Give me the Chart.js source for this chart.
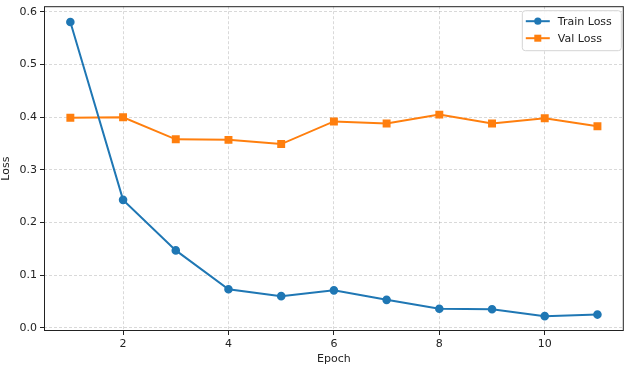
<!DOCTYPE html>
<html>
<head>
<meta charset="utf-8">
<script src="https://cdn.jsdelivr.net/npm/chart.js@4"></script>
<style>
  html, body { margin: 0; padding: 0; background: #fff; }
  #wrap { width: 630px; height: 369px; }
</style>
</head>
<body>
<div id="wrap"><canvas id="lossChart" width="630" height="369"></canvas></div>
<script>
// Données
const epochs = [1, 2, 3, 4, 5, 6, 7, 8, 9, 10, 11];
const trainLoss = [0.581, 0.243, 0.147, 0.073, 0.060, 0.071, 0.053, 0.036, 0.035, 0.022, 0.025];
const valLoss = [0.399, 0.400, 0.358, 0.357, 0.349, 0.392, 0.388, 0.405, 0.388, 0.398, 0.383];
const xTicks = [2, 4, 6, 8, 10];
const yTicks = [0.0, 0.1, 0.2, 0.3, 0.4, 0.5, 0.6];

const blue = '#1f77b4';
const orange = '#ff7f0e';
const font = { family: 'DejaVu Sans', size: 11 };

// Cadre autour de la zone du graphique + légende façon matplotlib
const framePlugin = {
    id: 'frame',
    afterDatasetsDraw(chart) {
        const ctx = chart.ctx;
        const a = chart.chartArea;
        ctx.save();
        ctx.strokeStyle = '#222';
        ctx.lineWidth = 1;
        ctx.strokeRect(a.left + 0.5, a.top + 0.5, a.right - a.left - 1, a.bottom - a.top - 1);

        // légende
        const boxW = 99, boxH = 40;
        const bx = a.right - boxW - 3, by = a.top + 4;
        ctx.fillStyle = 'rgba(255,255,255,0.85)';
        ctx.strokeStyle = '#d4d4d4';
        ctx.beginPath();
        ctx.roundRect(bx + 0.5, by + 0.5, boxW, boxH, 3);
        ctx.fill();
        ctx.stroke();
        ctx.font = '11px "DejaVu Sans"';
        ctx.textBaseline = 'middle';
        chart.data.datasets.forEach((ds, i) => {
            const cy = by + 11 + i * 17;
            ctx.strokeStyle = ds.borderColor;
            ctx.lineWidth = 2;
            ctx.beginPath();
            ctx.moveTo(bx + 4, cy);
            ctx.lineTo(bx + 28, cy);
            ctx.stroke();
            ctx.fillStyle = ds.borderColor;
            if (ds.pointStyle === 'rect') {
                ctx.fillRect(bx + 16 - 3.5, cy - 3.5, 7, 7);
            } else {
                ctx.beginPath();
                ctx.arc(bx + 16, cy, 3.6, 0, Math.PI * 2);
                ctx.fill();
            }
            ctx.fillStyle = '#222';
            ctx.fillText(ds.label, bx + 36, cy + 0.5);
        });
        ctx.restore();
    }
};

const chart = new Chart(document.getElementById('lossChart'), {
    type: 'line',
    data: {
        datasets: [{
            label: 'Train Loss',
            data: epochs.map((e, i) => ({ x: e, y: trainLoss[i] })),
            borderColor: blue,
            backgroundColor: blue,
            borderWidth: 2,
            pointStyle: 'circle',
            pointRadius: 3.3,
            pointHoverRadius: 3.3,
            tension: 0
        }, {
            label: 'Val Loss',
            data: epochs.map((e, i) => ({ x: e, y: valLoss[i] })),
            borderColor: orange,
            backgroundColor: orange,
            borderWidth: 2,
            pointStyle: 'rect',
            pointRadius: 4.2,
            pointHoverRadius: 4.2,
            tension: 0
        }]
    },
    options: {
        responsive: false,
        animation: false,
        layout: { padding: { top: 4, right: 4, left: 0, bottom: 0 } },
        plugins: {
            legend: { display: false },
            tooltip: { enabled: false }
        },
        scales: {
            x: {
                type: 'linear',
                min: 0.5,
                max: 11.5,
                afterBuildTicks: (axis) => { axis.ticks = xTicks.map(v => ({ value: v })); },
                afterFit: (axis) => { axis.height = 38; axis.paddingLeft = 0; axis.paddingRight = 0; },
                ticks: { font: font, color: '#222', padding: 3, maxRotation: 0 },
                grid: {
                    color: 'rgba(0,0,0,0.15)',
                    tickColor: '#222',
                    tickLength: 4,
                    tickBorderDash: []
                },
                border: { display: false, dash: [3, 2] },
                title: { display: true, text: 'Epoch', font: font, color: '#222', padding: { top: 0, bottom: 3 } }
            },
            y: {
                min: -0.0062,
                max: 0.611,
                afterBuildTicks: (axis) => { axis.ticks = yTicks.map(v => ({ value: v })); },
                afterFit: (axis) => { axis.width = 44; axis.paddingTop = 0; axis.paddingBottom = 0; },
                ticks: { font: font, color: '#222', padding: 3, callback: (v) => v.toFixed(1) },
                grid: {
                    color: 'rgba(0,0,0,0.15)',
                    tickColor: '#222',
                    tickLength: 4,
                    tickBorderDash: []
                },
                border: { display: false, dash: [3, 2] },
                title: { display: true, text: 'Loss', font: font, color: '#222', padding: { top: 0, bottom: 0 } }
            }
        }
    },
    plugins: [framePlugin]
});
</script>
</body>
</html>
